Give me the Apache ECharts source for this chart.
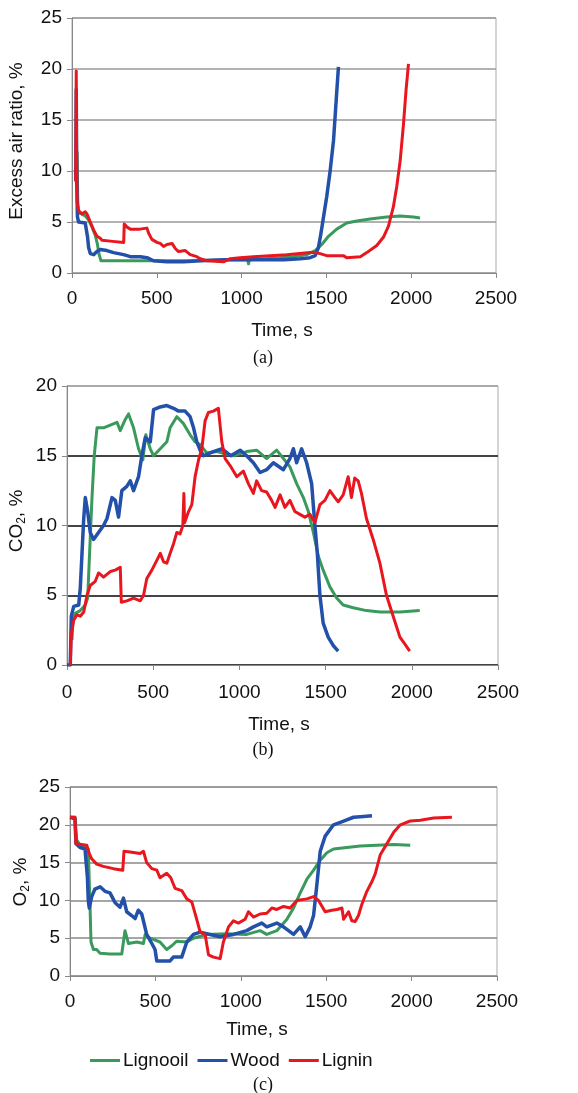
<!DOCTYPE html>
<html><head><meta charset="utf-8">
<script src="https://cdn.jsdelivr.net/npm/echarts@6/dist/echarts.min.js"></script>
<style>html,body{margin:0;padding:0;background:#fff}#c{width:578px;height:1093px}</style>
</head><body><div id="c"></div>
<script>
// ---------- DATA (time s, value %) ----------
var seriesNames = ['Lignooil', 'Wood', 'Lignin'];
var xTicks = [0, 500, 1000, 1500, 2000, 2500];

// (a) Excess air ratio
var excessLignooil = [[25,12],[30,11.8],[34,7],[40,5.9],[55,5.8],[78,5.6],[98,5.2],[118,4.5],[137,3.7],[150,2.8],[160,1.8],[171,1.2],[300,1.2],[500,1.2],[700,1.2],[952,1.3],[1035,1.3],[1041,0.9],[1046,1.3],[1149,1.4],[1305,1.6],[1384,1.8],[1434,2.2],[1473,2.8],[1512,3.6],[1561,4.3],[1620,4.9],[1679,5.1],[1757,5.3],[1855,5.5],[1935,5.6],[2013,5.5],[2052,5.4]];
var excessWood = [[22,9],[25,18],[28,9],[32,5.5],[39,5.0],[78,4.9],[84,4.8],[92,3.5],[98,2.5],[108,1.9],[128,1.8],[147,2.1],[167,2.3],[206,2.2],[245,2.0],[304,1.8],[344,1.6],[403,1.6],[442,1.5],[481,1.2],[560,1.1],[658,1.1],[760,1.2],[900,1.3],[1100,1.3],[1250,1.3],[1345,1.4],[1404,1.5],[1434,1.7],[1453,2.5],[1467,3.8],[1483,5.5],[1502,7.5],[1522,10],[1542,13],[1558,17],[1571,20.2]];
var excessLignin = [[22,9],[25,19.8],[27,12],[30,7],[38,6.1],[60,5.8],[78,6.0],[88,5.8],[108,5.0],[128,4.2],[147,3.6],[167,3.4],[177,3.2],[240,3.1],[305,3.0],[308,4.8],[324,4.5],[344,4.3],[400,4.3],[442,4.4],[452,3.9],[471,3.3],[501,3.0],[520,2.9],[540,2.6],[560,2.8],[590,2.9],[609,2.4],[628,2.1],[668,2.2],[697,1.8],[736,1.6],[756,1.4],[795,1.2],[893,1.1],[933,1.4],[992,1.5],[1070,1.6],[1168,1.7],[1266,1.8],[1404,2.0],[1434,2.0],[1463,1.9],[1502,1.7],[1600,1.7],[1620,1.5],[1700,1.6],[1738,2.0],[1797,2.7],[1836,3.5],[1866,4.6],[1895,6.5],[1915,8.5],[1935,11],[1954,14.5],[1970,18],[1984,20.5]];

// (b) CO2
var co2Lignooil = [[29,1.8],[35,3.3],[48,3.7],[77,3.9],[106,4.3],[120,4.8],[131,8],[145,12],[158,15],[174,17],[212,17],[251,17.2],[290,17.4],[309,16.8],[338,17.6],[357,18],[386,17],[415,15.5],[440,14.7],[457,16.5],[483,15.5],[502,15],[541,15.5],[579,16],[598,17],[637,17.8],[676,17.3],[714,16.5],[743,16],[772,15.8],[811,15.2],[869,15.3],[965,15],[1042,15.3],[1100,15.4],[1158,14.8],[1216,15.4],[1255,14.8],[1293,14.2],[1332,13],[1371,12],[1400,11],[1429,9.5],[1458,7.8],[1486,6.8],[1525,5.6],[1564,4.8],[1602,4.3],[1660,4.1],[1737,3.9],[1815,3.8],[1931,3.8],[2046,3.9]];
var co2Wood = [[0,0],[19,0],[25,3.5],[39,4.2],[68,4.3],[77,5.5],[87,8],[97,10.5],[106,12],[120,11],[135,9.5],[154,9.0],[183,9.5],[212,10],[232,10.5],[261,12],[280,11.8],[299,10.6],[318,12.5],[347,12.8],[367,13.2],[386,12.5],[415,13.5],[434,15],[454,16.3],[483,16],[502,18.3],[541,18.5],[579,18.6],[618,18.4],[647,18.2],[685,18.2],[714,17.8],[734,17],[753,16],[772,15.4],[792,15.0],[849,15.3],[900,15.5],[950,15.0],[1004,15.4],[1042,15.0],[1081,14.5],[1120,13.8],[1158,14.0],[1197,14.5],[1255,14.0],[1293,14.8],[1313,15.5],[1332,14.5],[1361,15.5],[1390,14.5],[1419,13.0],[1438,10],[1452,8],[1467,5],[1486,3],[1515,2],[1544,1.4],[1573,1.0]];
var co2Lignin = [[19,0],[25,2.2],[39,3.2],[58,3.6],[77,3.5],[97,3.8],[116,5],[135,5.7],[164,6],[183,6.6],[212,6.3],[251,6.7],[280,6.8],[309,7],[315,4.5],[347,4.6],[386,4.8],[425,4.6],[444,5],[463,6.2],[492,6.8],[521,7.5],[541,8],[560,7.4],[579,7.3],[598,8],[618,8.7],[637,9.5],[656,9.4],[672,10],[678,12.3],[682,10.2],[705,11],[724,11.5],[743,13.5],[763,14.7],[782,15.5],[801,17.5],[820,18.1],[849,18.2],[878,18.4],[898,16],[917,14.8],[946,14.3],[985,13.5],[1023,13.9],[1052,13],[1081,12.3],[1100,13.2],[1129,12.5],[1158,12.4],[1187,11.8],[1207,11.3],[1236,12.2],[1264,11.3],[1293,11.8],[1322,11],[1351,10.8],[1380,10.6],[1409,10.8],[1438,10.2],[1467,11.5],[1496,11.8],[1525,12.5],[1554,12],[1573,11.7],[1602,12.2],[1631,13.5],[1650,12],[1669,13.4],[1689,13.2],[1708,12.3],[1737,10.5],[1776,9],[1815,7.3],[1853,5],[1892,3.5],[1931,2],[1960,1.5],[1988,1]];

// (c) O2
var o2Lignooil = [[0,21],[29,21],[39,18],[59,17.3],[107,16.8],[117,9.5],[123,4.5],[137,3.5],[156,3.5],[176,3],[234,2.9],[303,2.9],[322,6],[342,4.3],[391,4.5],[430,4.3],[440,5.5],[469,5],[527,4.5],[566,3.5],[596,4],[625,4.6],[684,4.5],[723,5],[801,5.5],[918,5.6],[1035,5.5],[1113,6],[1152,5.5],[1211,6],[1270,7.5],[1309,9],[1348,11],[1387,12.8],[1426,14],[1465,15.3],[1504,16.3],[1543,16.8],[1621,17],[1699,17.2],[1797,17.3],[1895,17.4],[1992,17.3]];
var o2Wood = [[0,21],[29,20.8],[35,17.5],[59,17],[88,16.8],[102,13],[107,10],[113,9],[127,10.5],[146,11.5],[176,11.8],[205,11.2],[234,11],[264,9.7],[293,9.1],[313,10.3],[332,8.5],[361,8],[381,7.6],[400,8.7],[420,8.2],[449,5.5],[479,4.3],[498,3.5],[508,2],[586,2],[605,2.5],[654,2.5],[684,4.5],[723,5.5],[762,5.8],[820,5.5],[879,5.2],[957,5.5],[1035,6],[1074,6.5],[1123,7],[1152,6.5],[1211,7],[1250,6.5],[1309,5.5],[1348,6.5],[1377,5.2],[1406,6.5],[1426,8],[1445,12],[1465,16.5],[1494,18.5],[1543,20],[1602,20.5],[1660,21],[1719,21.1],[1768,21.2]];
var o2Lignin = [[0,21],[29,21],[35,17.5],[98,17.3],[113,16.2],[127,15.5],[156,14.8],[195,14.5],[254,14.2],[309,14],[316,16.5],[352,16.4],[410,16.2],[430,16.5],[449,15],[479,14.2],[508,14],[527,13],[566,13.6],[590,13],[615,11.6],[654,11.3],[684,10.2],[713,9.8],[742,7.5],[762,5.8],[791,5.5],[811,2.8],[840,2.5],[879,2.3],[898,4.5],[928,6.5],[957,7.3],[986,7],[1025,7.5],[1045,8.5],[1074,7.8],[1113,8.2],[1152,8.3],[1182,9],[1211,8.8],[1250,9.2],[1289,9],[1328,10],[1387,10.2],[1426,10.5],[1455,10],[1494,8.5],[1533,8.7],[1563,8.8],[1592,9],[1602,7.5],[1631,8.5],[1650,7.3],[1670,7.2],[1689,8],[1709,9.5],[1738,11.2],[1768,12.5],[1787,13.5],[1816,16],[1855,17.5],[1895,19],[1934,20],[1992,20.5],[2051,20.6],[2129,20.9],[2236,21]];

// ---------- CHART ----------
var FONT = 'Liberation Sans';
var colors = { Lignooil: '#3a9a5c', Wood: '#2350a8', Lignin: '#e8161e' };
var widths = { Lignooil: 3, Wood: 3.5, Lignin: 3 };

var grids = [
  { left: 72, top: 18, width: 424, height: 255 },
  { left: 67, top: 386, width: 431, height: 279 },
  { left: 70, top: 787, width: 427, height: 189 }
];
grids.forEach(function (g) { g.show = true; g.borderColor = '#aaa'; g.borderWidth = 1; g.backgroundColor = 'transparent'; });

function plain(v) { return String(v); }
function xAxis(i, margin) {
  return {
    type: 'value', gridIndex: i, min: xTicks[0], max: xTicks[xTicks.length - 1], interval: 500,
    axisLine: { show: true, lineStyle: { color: '#888', width: 1 } },
    axisTick: { show: true, length: 5, lineStyle: { color: '#888' } },
    axisLabel: { margin: margin, fontFamily: FONT, fontSize: 19, color: '#111', formatter: plain },
    splitLine: { show: false }
  };
}
function yAxis(i, max, splitColor, splitWidth) {
  return {
    type: 'value', gridIndex: i, min: 0, max: max, interval: 5,
    axisLine: { show: true, lineStyle: { color: '#888', width: 1 } },
    axisTick: { show: true, length: 5, lineStyle: { color: '#888' } },
    axisLabel: { margin: 10, fontFamily: FONT, fontSize: 19, color: '#111', formatter: plain },
    splitLine: { show: true, lineStyle: { color: splitColor, width: splitWidth } }
  };
}

function mk(name, data, i) {
  return {
    name: name, type: 'line', xAxisIndex: i, yAxisIndex: i, data: data,
    showSymbol: false, symbol: 'none', animation: false,
    lineStyle: { color: colors[name], width: widths[name], join: 'round' },
    itemStyle: { color: colors[name] }
  };
}

var titleStyle = { fontFamily: FONT, fontSize: 18, fill: '#111' };
function txt(x, y, text, extra) {
  var st = Object.assign({ text: text, align: 'center', verticalAlign: 'middle' }, titleStyle, extra || {});
  return { type: 'text', x: x, y: y, style: st, silent: true };
}
function rot(x, y, text, rich) {
  var st = Object.assign({ text: text, align: 'center', verticalAlign: 'middle' }, titleStyle, { fontSize: 19 });
  if (rich) st.rich = rich;
  return { type: 'text', x: x, y: y, rotation: Math.PI / 2, style: st, silent: true };
}
var serif = { fontFamily: 'Liberation Serif', fontSize: 18 };
var subRich = {
  n: { fontFamily: FONT, fontSize: 19, fill: '#111' },
  s: { fontFamily: FONT, fontSize: 12, fill: '#111', padding: [9, 0, 0, 0] }
};

var option = {
  backgroundColor: '#fff',
  animation: false,
  grid: grids,
  xAxis: [xAxis(0, 16), xAxis(1, 18), xAxis(2, 16)],
  yAxis: [
    yAxis(0, 25, '#999', 1.5),
    yAxis(1, 20, ['#444', '#444', '#444', '#444', '#aaa'], 2),
    yAxis(2, 25, '#888', 1.5)
  ],
  legend: {
    data: seriesNames, left: 85, top: 1046, itemGap: 9, itemWidth: 30, itemHeight: 3, icon: 'rect',
    padding: 5, textStyle: { fontFamily: FONT, fontSize: 19, color: '#111', padding: [0, 0, 0, -2] }
  },
  series: [
    mk('Lignooil', excessLignooil, 0), mk('Wood', excessWood, 0), mk('Lignin', excessLignin, 0),
    mk('Lignooil', co2Lignooil, 1), mk('Wood', co2Wood, 1), mk('Lignin', co2Lignin, 1),
    mk('Lignooil', o2Lignooil, 2), mk('Wood', o2Wood, 2), mk('Lignin', o2Lignin, 2)
  ],
  graphic: [
    rot(17, 141, 'Excess air ratio, %'),
    rot(17, 521, '{n|CO}{s|2}{n|, %}', subRich),
    rot(21, 882, '{n|O}{s|2}{n|, %}', subRich),
    txt(282, 331, 'Time, s', { fontSize: 19 }),
    txt(279, 725, 'Time, s', { fontSize: 19 }),
    txt(257, 1030, 'Time, s', { fontSize: 19 }),
    txt(263, 358, '(a)', serif),
    txt(263, 750, '(b)', serif),
    txt(263, 1085, '(c)', serif)
  ]
};

var chart = echarts.init(document.getElementById('c'), null, { renderer: 'canvas' });
chart.setOption(option);
</script></body></html>
